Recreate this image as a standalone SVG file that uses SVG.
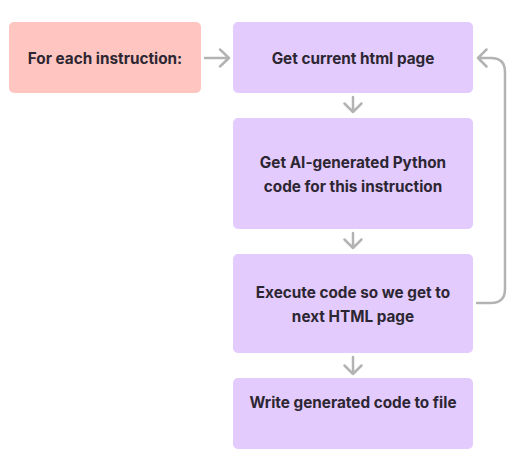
<svg xmlns="http://www.w3.org/2000/svg" width="525" height="472" viewBox="0 0 525 472">
<defs>
<style>
.red{fill:#ffc6c1}
.pur{fill:#e3cbfd}
.t{font-family:Inter,"Noto Sans","Liberation Sans",sans-serif;font-weight:700;font-size:15.3px;fill:#2d2633;text-anchor:middle}
.c{fill:none;stroke:#b3b3b3;stroke-width:2.5;stroke-linecap:round;stroke-linejoin:round}
</style>
</defs>
<rect width="525" height="472" fill="#ffffff"/>
<g id="start"><rect class="red" x="9" y="22" width="192" height="71" rx="5"/><text class="t" x="105" y="64">For each instruction:</text></g>
<g id="n1"><rect class="pur" x="233" y="22" width="240" height="71" rx="5"/><text class="t" x="353" y="64">Get current html page</text></g>
<g id="n2"><rect class="pur" x="233" y="118" width="240" height="111" rx="5"/><text class="t" x="353" y="168">Get AI-generated Python</text><text class="t" x="353" y="192">code for this instruction</text></g>
<g id="n3"><rect class="pur" x="233" y="254" width="240" height="99" rx="5"/><text class="t" x="353" y="298">Execute code so we get to</text><text class="t" x="353" y="322">next HTML page</text></g>
<g id="n4"><rect class="pur" x="233" y="378" width="240" height="71" rx="5"/><text class="t" x="353" y="408">Write generated code to file</text></g>
<g id="connectors">
<path class="c" d="M205 58H229M220 49.5L229 58L220 66.5"/>
<path class="c" d="M353 97V112M344.5 103.5L353 112L361.5 103.5"/>
<path class="c" d="M353 233V248M344.5 239.5L353 248L361.5 239.5"/>
<path class="c" d="M353 357V374M344.5 365.5L353 374L361.5 365.5"/>
<path class="c" d="M477 303H491Q505 303 505 289V72Q505 58 491 58H478M486.5 49.5L478 58L486.5 66.5"/>
</g>
</svg>
